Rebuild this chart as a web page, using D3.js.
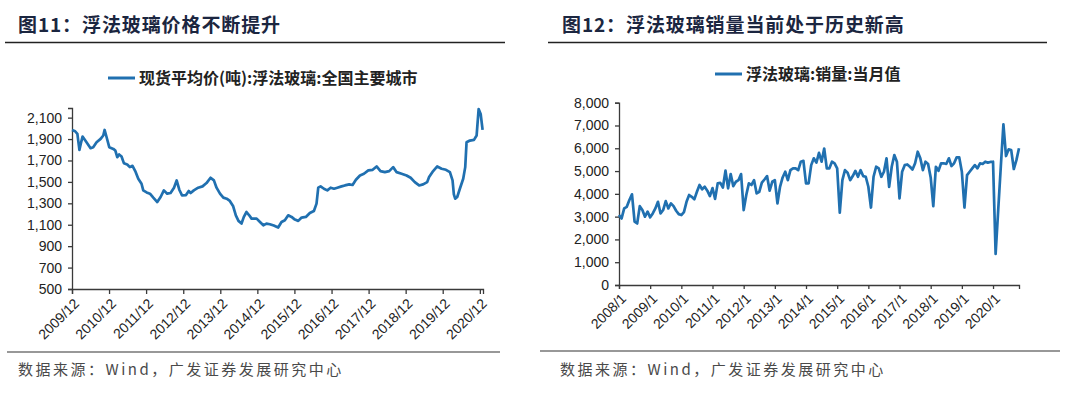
<!DOCTYPE html>
<html><head><meta charset="utf-8">
<script src="https://cdn.jsdelivr.net/npm/d3@7/dist/d3.min.js"></script>
<style>
body{margin:0;background:#fff;}
svg{display:block;}
</style></head>
<body>
<svg id="c" width="1080" height="397"></svg>
<script>
// ---------- DATA: Chart 1 (price, yuan/ton) ----------
const priceDates = ["2009-12-01","2010-01-01","2010-01-23","2010-02-12","2010-02-25","2010-03-15","2010-04-23","2010-06-02","2010-06-28","2010-07-31","2010-09-09","2010-10-05","2010-10-18","2010-11-07","2010-12-03","2011-01-12","2011-02-01","2011-02-20","2011-03-10","2011-04-03","2011-04-26","2011-05-29","2011-06-24","2011-07-20","2011-08-16","2011-09-15","2011-10-17","2011-11-03","2011-12-06","2012-01-08","2012-02-10","2012-03-20","2012-04-22","2012-05-24","2012-06-26","2012-07-29","2012-09-01","2012-09-27","2012-10-23","2012-11-19","2012-12-28","2013-01-24","2013-02-12","2013-03-15","2013-04-27","2013-06-09","2013-07-18","2013-08-27","2013-09-29","2013-10-25","2013-11-28","2013-12-31","2014-02-02","2014-03-05","2014-04-07","2014-05-03","2014-05-29","2014-06-28","2014-07-21","2014-08-16","2014-09-12","2014-10-05","2014-11-24","2014-12-27","2015-01-29","2015-03-01","2015-04-03","2015-05-12","2015-06-24","2015-07-27","2015-08-29","2015-10-01","2015-11-03","2015-12-06","2016-01-08","2016-02-10","2016-03-23","2016-05-01","2016-06-10","2016-07-06","2016-07-23","2016-08-15","2016-09-17","2016-10-20","2016-11-22","2016-12-25","2017-01-27","2017-03-09","2017-04-11","2017-05-24","2017-06-26","2017-07-29","2017-09-07","2017-10-16","2017-11-28","2018-01-10","2018-02-18","2018-03-28","2018-05-10","2018-06-22","2018-07-31","2018-09-03","2018-10-22","2018-12-10","2019-01-19","2019-03-01","2019-04-13","2019-05-22","2019-07-01","2019-07-20","2019-08-29","2019-10-08","2019-11-20","2020-01-02","2020-02-10","2020-03-07","2020-03-20","2020-04-02","2020-04-22","2020-05-18","2020-06-20","2020-07-10","2020-07-23","2020-08-25","2020-10-04","2020-10-30","2020-11-19","2020-12-09","2020-12-28"];
const priceValues = [1985,1973,1948,1799,1855,1923,1870,1815,1824,1870,1902,1933,1985,1917,1824,1808,1793,1731,1756,1737,1675,1663,1638,1650,1601,1530,1483,1421,1402,1390,1353,1312,1359,1421,1390,1396,1446,1514,1427,1374,1377,1415,1396,1421,1446,1458,1489,1539,1514,1446,1390,1353,1343,1322,1272,1188,1136,1111,1173,1219,1188,1157,1157,1126,1095,1111,1105,1092,1074,1126,1142,1188,1173,1148,1136,1167,1173,1210,1229,1297,1446,1458,1436,1421,1446,1436,1446,1458,1467,1477,1471,1520,1560,1576,1607,1613,1644,1601,1591,1601,1638,1591,1576,1560,1539,1498,1467,1477,1498,1545,1601,1644,1623,1613,1591,1514,1384,1343,1359,1436,1529,1638,1870,1886,1892,1933,2180,2134,1985];
const priceTickDates = ["2009-12-01","2010-12-01","2011-12-01","2012-12-01","2013-12-01","2014-12-01","2015-12-01","2016-12-01","2017-12-01","2018-12-01","2019-12-01","2020-12-01"];
const priceTickLabels = ["2009/12","2010/12","2011/12","2012/12","2013/12","2014/12","2015/12","2016/12","2017/12","2018/12","2019/12","2020/12"];
const priceYTicks = [500,700,900,1100,1300,1500,1700,1900,2100];

// ---------- DATA: Chart 2 (monthly sales, 2008/1 - 2020/11) ----------
const salesValues = [
3070,2920,3360,3430,3730,3980,2780,2700,3460,3290,3000,3220,
2970,3140,3360,3650,3140,3290,3680,3360,3580,3460,3260,3110,
3070,3200,3650,3950,3870,3760,4090,4390,4200,4310,4140,3900,
4250,3780,4460,4480,4280,5020,4240,4870,4340,4530,4600,4870,
3290,3950,4460,4390,4600,4020,4090,4490,4630,4780,4140,4530,
4600,3580,4310,4720,4970,4600,5040,5120,5120,5040,5410,5450,
4460,4460,5260,5560,5370,5800,5410,5990,5120,5120,5410,5340,
5120,3170,4600,5040,4930,4600,4780,5010,4750,5040,4780,4750,
4310,3400,4750,5190,5120,4750,4970,5560,4310,5190,5700,5410,
3800,4970,5260,5290,5190,5070,5340,5850,5560,5040,5410,5310,
4720,3460,5190,5010,5340,5340,5310,5560,5220,5340,5600,5600,
4970,3400,4820,4970,5120,5260,5120,5340,5310,5410,5370,5400,
5410,1360,3300,5200,7050,5660,5950,5920,5090,5480,6000];
const salesTickIndex = [0,12,24,36,48,60,72,84,96,108,120,132,144];
const salesTickLabels = ["2008/1","2009/1","2010/1","2011/1","2012/1","2013/1","2014/1","2015/1","2016/1","2017/1","2018/1","2019/1","2020/1"];
const salesYTicks = [0,1000,2000,3000,4000,5000,6000,7000,8000];

// ---------- TEXT ----------
const title1 = "图11：浮法玻璃价格不断提升";
const title2 = "图12：浮法玻璃销量当前处于历史新高";
const legend1 = "现货平均价(吨):浮法玻璃:全国主要城市";
const legend2 = "浮法玻璃:销量:当月值";
const sourceText = "数据来源：Wind，广发证券发展研究中心";

const LINE = "#2070b0", AX = "#3a3a3a", TITLE = "#1b2640", SRC = "#4a4a4a";
const svg = d3.select("#c");
const parse = d3.timeParse("%Y-%m-%d");
const tickFont = "'Liberation Sans', Arial, sans-serif";
const cjk = "'Noto Sans CJK SC', sans-serif";

function header(x, lx0, lx1, text){
  svg.append("text").attr("x", x).attr("y", 32).text(text)
    .attr("font-family", cjk).attr("font-weight", "bold").attr("font-size", 19)
    .attr("letter-spacing", 0.9).attr("fill", TITLE);
  svg.append("line").attr("x1", lx0).attr("x2", lx1).attr("y1", 42.5).attr("y2", 42.5)
    .attr("stroke", "#222").attr("stroke-width", 1.5);
}
function footer(x, lx0, lx1, ly){
  svg.append("line").attr("x1", lx0).attr("x2", lx1).attr("y1", ly).attr("y2", ly)
    .attr("stroke", "#333").attr("stroke-width", 1.2);
  svg.append("text").attr("x", x).attr("y", 375).text(sourceText)
    .attr("font-family", cjk).attr("font-size", 15).attr("letter-spacing", 2.5).attr("fill", SRC);
}
function legend(x0, y, text){
  svg.append("line").attr("x1", x0).attr("x2", x0 + 27).attr("y1", y).attr("y2", y)
    .attr("stroke", LINE).attr("stroke-width", 3);
  svg.append("text").attr("x", x0 + 31).attr("y", y + 5.5).text(text)
    .attr("font-family", cjk).attr("font-weight", "bold").attr("font-size", 16).attr("fill", "#222");
}
function styleAxes(ya, xa, tx, ty){
  [ya, xa].forEach(a => {
    a.select(".domain").attr("stroke", AX).attr("stroke-width", 1.3);
    a.selectAll(".tick line").attr("stroke", AX).attr("stroke-width", 1.3);
    a.selectAll("text").attr("font-family", tickFont).attr("font-size", 14).attr("fill", "#222");
  });
  xa.selectAll(".tick text").attr("text-anchor", "end").attr("dy", "0.35em")
    .attr("transform", `translate(${tx},${ty}) rotate(-45)`).attr("y", 0).attr("x", 0);
}

// ---------- Chart 1 ----------
header(18, 5, 505, title1);
legend(108, 78, legend1);
{
  const x = d3.scaleTime().domain([parse("2009-12-01"), parse("2021-01-01")]).range([72, 483]);
  const y = d3.scaleLinear().domain([500, 2190]).range([289, 108]);
  const g = svg.append("g");
  const ya = g.append("g").attr("transform", "translate(72,0)")
    .call(d3.axisLeft(y).tickValues(priceYTicks).tickFormat(d3.format(",")).tickSize(4).tickPadding(6));
  const xa = g.append("g").attr("transform", "translate(0,289)")
    .call(d3.axisBottom(x).tickValues(priceTickDates.map(parse)).tickFormat((d,i)=>priceTickLabels[i]).tickSize(5));
  styleAxes(ya, xa, 4, 12);
  const pts = priceDates.map((d,i)=>({d: parse(d), v: priceValues[i]}));
  g.append("path").datum(pts)
    .attr("d", d3.line().x(p=>x(p.d)).y(p=>y(p.v)))
    .attr("fill", "none").attr("stroke", LINE).attr("stroke-width", 2.7).attr("stroke-linejoin", "round");
}
footer(18, 7, 500, 352);

// ---------- Chart 2 ----------
header(562, 548, 1047, title2);
legend(715, 74, legend2);
{
  const x = d3.scaleLinear().domain([0, salesValues.length - 1]).range([619, 1019]);
  const y = d3.scaleLinear().domain([0, 8000]).range([285, 102.7]);
  const g = svg.append("g");
  const ya = g.append("g").attr("transform", "translate(619,0)")
    .call(d3.axisLeft(y).tickValues(salesYTicks).tickFormat(d3.format(",")).tickSize(4).tickPadding(6));
  const xa = g.append("g").attr("transform", "translate(0,285)")
    .call(d3.axisBottom(x).tickValues(salesTickIndex).tickFormat((d,i)=>salesTickLabels[i]).tickSize(4));
  styleAxes(ya, xa, 4, 11);
  g.append("path").datum(salesValues)
    .attr("d", d3.line().x((v,i)=>x(i)).y(v=>y(v)))
    .attr("fill", "none").attr("stroke", LINE).attr("stroke-width", 2.7).attr("stroke-linejoin", "round");
}
footer(560, 540, 1060, 351);
</script>
</body></html>
